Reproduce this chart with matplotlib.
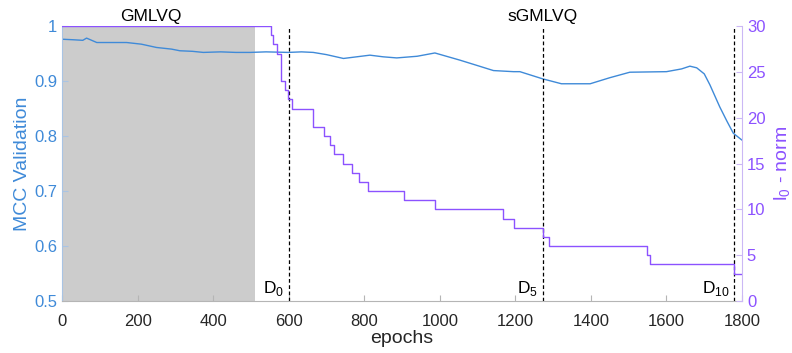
import matplotlib
matplotlib.use('Agg')
import matplotlib.pyplot as plt

plt.rcParams['font.family'] = ['Liberation Sans', 'DejaVu Sans']
plt.rcParams['mathtext.fontset'] = 'custom'
plt.rcParams['mathtext.rm'] = 'Liberation Sans'

# MCC validation curve (epoch, value)
mcc_epochs = [0, 30, 55, 65, 92, 130, 171, 210, 250, 290, 312, 345, 374, 420, 460, 498,
              540, 599, 634, 665, 700, 745, 780, 815, 850, 886, 940, 987, 1053, 1100,
              1142, 1195, 1212, 1272, 1322, 1398, 1450, 1503, 1600, 1640, 1662, 1680,
              1700, 1715, 1741, 1760, 1777, 1799]
mcc_values = [0.976, 0.975, 0.974, 0.978, 0.970, 0.970, 0.970, 0.967, 0.961, 0.958, 0.955,
              0.954, 0.952, 0.953, 0.952, 0.952, 0.953, 0.952, 0.953, 0.952, 0.948, 0.941,
              0.944, 0.947, 0.944, 0.942, 0.945, 0.951, 0.938, 0.928, 0.919, 0.917, 0.917,
              0.904, 0.895, 0.895, 0.906, 0.916, 0.917, 0.922, 0.927, 0.924, 0.913, 0.893,
              0.853, 0.827, 0.805, 0.793]

# l0-norm step curve: value held from each epoch onwards
l0_epochs = [0, 552, 559, 568, 580, 590, 599, 603, 608, 665, 693, 709, 720, 743, 767, 786,
             809, 905, 988, 1166, 1196, 1272, 1289, 1548, 1556, 1779, 1800]
l0_values = [30, 29, 28, 27, 24, 23, 22, 22, 21, 19, 18, 17, 16, 15, 14, 13, 12, 11, 10,
             9, 8, 7, 6, 5, 4, 3, 3]

gmlvq_end = 510
d_epochs = [600, 1272, 1779]
d_labels = ['D$_{\\mathregular{0}}$', 'D$_{\\mathregular{5}}$', 'D$_{\\mathregular{10}}$']

blue = '#3f8ad8'
purple = '#8c52ff'

fig = plt.figure(figsize=(7.92, 3.53), dpi=100)
ax = fig.add_axes([0.0783, 0.1473, 0.8586, 0.779])
ax2 = ax.twinx()

ax.axvspan(0, gmlvq_end, color='#cccccc', lw=0, zorder=0)
ax.plot(mcc_epochs, mcc_values, color=blue, lw=1.0)
ax2.plot(l0_epochs, l0_values, color=purple, lw=1.0, drawstyle='steps-post')

for xd, lab in zip(d_epochs, d_labels):
    ax.axvline(xd, color='black', ls=(0, (3, 2)), lw=0.9)
    ax.annotate(lab, xy=(xd, 0.5), xytext=(-3, 2), textcoords='offset points',
                ha='right', va='bottom', fontsize=12.5)

ax.text(235, 1.003, 'GMLVQ', ha='center', va='bottom', fontsize=12.5)
ax.text(1272, 1.003, 'sGMLVQ', ha='center', va='bottom', fontsize=12.5)

ax.set_xlim(0, 1800)
ax.set_ylim(0.5, 1)
ax2.set_ylim(0, 30)
ax.set_xticks(range(0, 1801, 200))
ax.set_yticks([0.5, 0.6, 0.7, 0.8, 0.9, 1])
ax.set_yticklabels(['0.5', '0.6', '0.7', '0.8', '0.9', '1'])
ax2.set_yticks(range(0, 31, 5))

ax.set_xlabel('epochs', fontsize=14, color='#262626', labelpad=1)
ax.set_ylabel('MCC Validation', fontsize=14, color=blue, labelpad=2)
ax2.set_ylabel('l$_{\\mathregular{0}}$ - norm', fontsize=14, color=purple, labelpad=5)

for a in (ax, ax2):
    a.spines['top'].set_visible(False)
ax.spines['right'].set_visible(False)
ax2.spines['left'].set_visible(False)
ax2.spines['bottom'].set_visible(False)
ax.spines['bottom'].set_color('#b5b5b5')
ax.spines['left'].set_color('#a9c4e4')
ax2.spines['right'].set_color('#cbb8f5')

ax.tick_params(axis='x', direction='in', length=4, colors='#b5b5b5', labelcolor='#262626',
               labelsize=12, pad=9)
ax.tick_params(axis='y', direction='in', length=4, colors='#a9c4e4', labelcolor=blue,
               labelsize=12)
ax2.tick_params(axis='y', direction='in', length=4, colors='#cbb8f5', labelcolor=purple,
                labelsize=12)

fig.savefig('out.png', dpi=100)
